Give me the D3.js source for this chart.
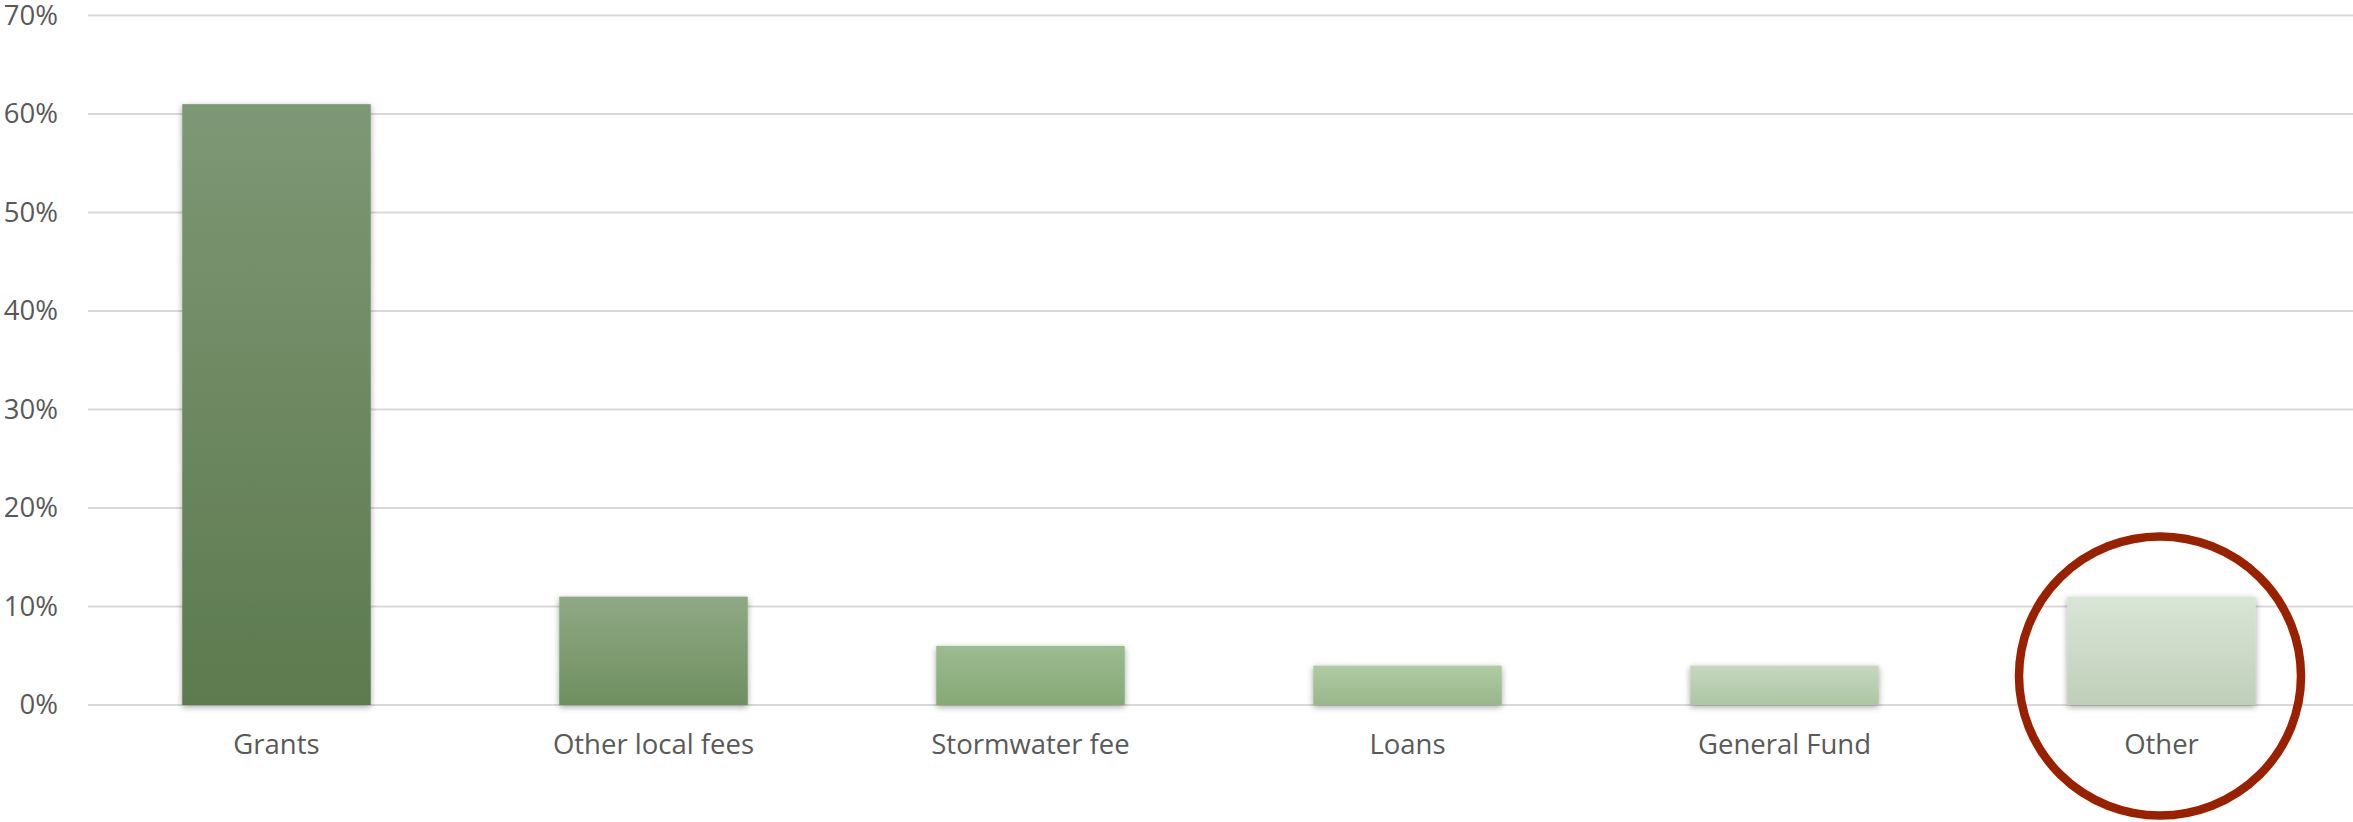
<!DOCTYPE html>
<html>
<head>
<meta charset="utf-8">
<script src="https://cdn.jsdelivr.net/npm/d3@7"></script>
<style>
  html, body { margin: 0; padding: 0; background: #fff; }
  svg { display: block; }
  text { font-family: 'Open Sans', sans-serif; fill: #595959; }
</style>
</head>
<body>
<svg id="chart"></svg>
<script>
// funding sources, share of total
const categories = ['Grants', 'Other local fees', 'Stormwater fee', 'Loans', 'General Fund', 'Other']
const values = [0.61, 0.11, 0.06, 0.04, 0.04, 0.11]
const yTicks = [0, 0.1, 0.2, 0.3, 0.4, 0.5, 0.6, 0.7]
// gradient top / bottom for each bar
const topColors = ['#7e9775', '#8fa985', '#9cbb8f', '#b0cba4', '#c6d8bf', '#d9e5d6']
const bottomColors = ['#5c7a4e', '#6e8f5f', '#85a975', '#97b68a', '#adc5a2', '#bfcfb9']
const highlighted = 'Other'

const width = 2353
const height = 822
const margin = { top: 15.5, right: 3, bottom: 117, left: 88 }

const svg = d3.select('#chart')
  .attr('width', width)
  .attr('height', height)

const defs = svg.append('defs')

const shadow = defs.append('filter')
  .attr('id', 'shadow')
  .attr('x', '-10%').attr('y', '-10%')
  .attr('width', '120%').attr('height', '130%')
shadow.append('feDropShadow')
  .attr('dx', 0).attr('dy', 2)
  .attr('stdDeviation', 3)
  .attr('flood-color', '#000')
  .attr('flood-opacity', 0.35)

categories.forEach((c, i) => {
  const g = defs.append('linearGradient')
    .attr('id', 'grad' + i)
    .attr('x1', 0).attr('y1', 0).attr('x2', 0).attr('y2', 1)
  g.append('stop').attr('offset', '0%').attr('stop-color', topColors[i])
  g.append('stop').attr('offset', '100%').attr('stop-color', bottomColors[i])
})

const x = d3.scaleBand()
  .domain(categories)
  .range([margin.left, width - margin.right])
  .paddingInner(0.5)
  .paddingOuter(0.25)

const y = d3.scaleLinear()
  .domain([0, 0.7])
  .range([height - margin.bottom, margin.top])

// gridlines
svg.append('g')
  .selectAll('line')
  .data(yTicks)
  .join('line')
  .attr('x1', margin.left)
  .attr('x2', width)
  .attr('y1', d => y(d))
  .attr('y2', d => y(d))
  .attr('stroke', '#d9d9d9')
  .attr('stroke-width', 2)

// y axis labels
const yAxis = d3.axisLeft(y)
  .tickValues(yTicks)
  .tickFormat(d3.format('.0%'))
  .tickSize(0)
  .tickPadding(0)

svg.append('g')
  .attr('transform', 'translate(58,0)')
  .call(yAxis)
  .call(g => g.select('.domain').remove())
  .selectAll('text')
  .style('font-size', '27.5px')
  .attr('fill', '#595959')

// bars
svg.append('g')
  .selectAll('rect')
  .data(values)
  .join('rect')
  .attr('x', (d, i) => x(categories[i]))
  .attr('y', d => y(d))
  .attr('width', x.bandwidth())
  .attr('height', d => y(0) - y(d))
  .attr('fill', (d, i) => `url(#grad${i})`)
  .attr('filter', 'url(#shadow)')

// x axis labels
const xAxis = d3.axisBottom(x)
  .tickSize(0)
  .tickPadding(29)

svg.append('g')
  .attr('transform', `translate(0,${y(0)})`)
  .call(xAxis)
  .call(g => g.select('.domain').remove())
  .selectAll('text')
  .style('font-size', '27.5px')
  .attr('fill', '#595959')

// red circle around highlighted category
svg.append('ellipse')
  .attr('cx', x(highlighted) + x.bandwidth() / 2 - 1.5)
  .attr('cy', 676)
  .attr('rx', 141)
  .attr('ry', 139.5)
  .attr('fill', 'none')
  .attr('stroke', '#992100')
  .attr('stroke-width', 8.5)
</script>
</body>
</html>
